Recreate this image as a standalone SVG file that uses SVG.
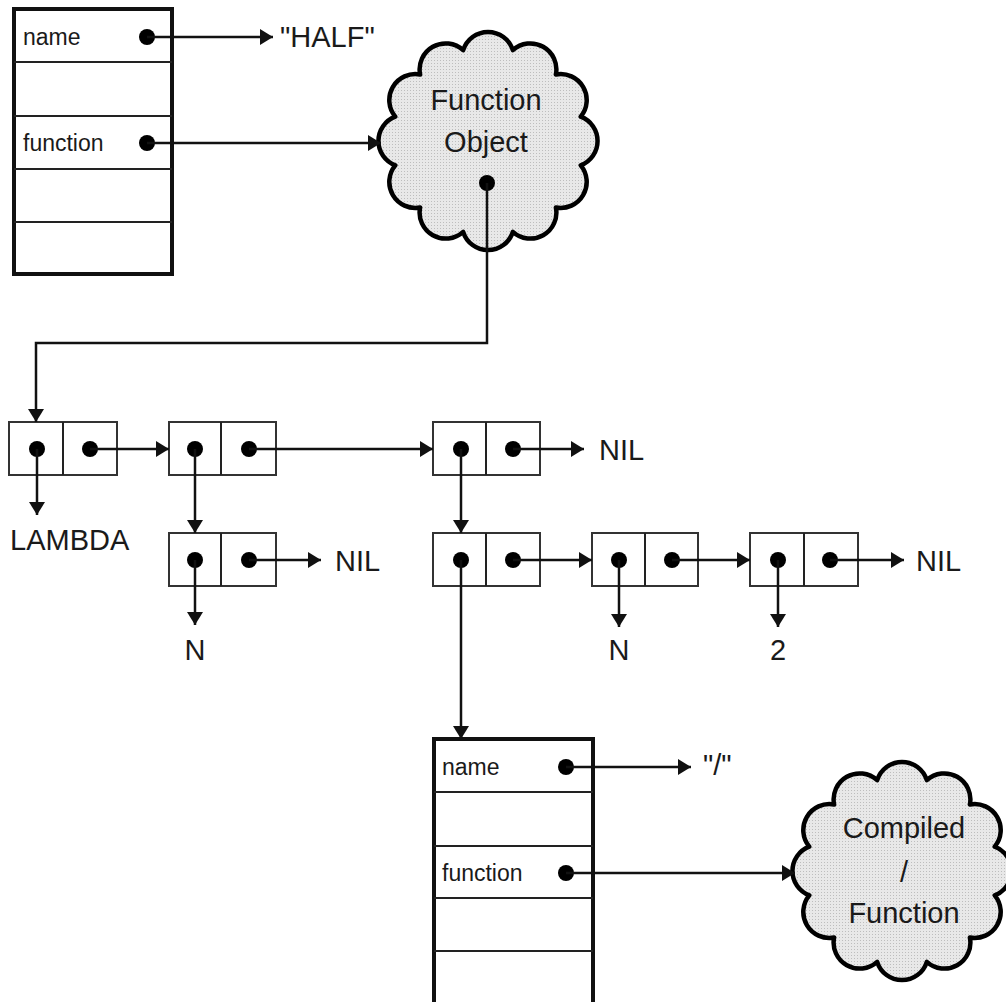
<svg xmlns="http://www.w3.org/2000/svg" width="1006" height="1002" viewBox="0 0 1006 1002">
<style>
text{font-family:"Liberation Sans",Arial,sans-serif;fill:#1a1a1a}
.lbl{font-size:23px}
.big{font-size:29px}
.mid{text-anchor:middle}
.sym{fill:#fff;stroke:#111;stroke-width:4}
.row{stroke:#222;stroke-width:2}
.cell{fill:#fff;stroke:#333;stroke-width:2}
.dot{fill:#000}
.cloud{fill:url(#dots);stroke:#000;stroke-width:4.5;stroke-linejoin:round}
.edge{fill:none;stroke:#111;stroke-width:2.5;marker-end:url(#ah)}
</style>
<defs>
<pattern id="dots" width="3" height="3" patternUnits="userSpaceOnUse">
<rect width="3" height="3" fill="#e8e8e8"/>
<rect width="1" height="1" fill="#bdbdbd"/>
</pattern>
<marker id="ah" markerUnits="userSpaceOnUse" markerWidth="16" markerHeight="16" refX="13" refY="8" orient="auto">
<path d="M0,0 L13,8 L0,16 z" fill="#111"/>
</marker>
<path id="cloudShape" d="M92.73,24.33 A26,26 0 0 1 67.88,66.47 A26,26 0 0 1 24.84,90.79 A26,26 0 0 1 -24.84,90.79 A26,26 0 0 1 -67.88,66.47 A26,26 0 0 1 -92.73,24.33 A26,26 0 0 1 -92.73,-24.33 A26,26 0 0 1 -67.88,-66.47 A26,26 0 0 1 -24.84,-90.79 A26,26 0 0 1 24.84,-90.79 A26,26 0 0 1 67.88,-66.47 A26,26 0 0 1 92.73,-24.33 A26,26 0 0 1 92.73,24.33 Z"/>
</defs>
<rect width="1006" height="1002" fill="#fff"/>

<g id="symbol-half">
<rect class="sym" x="14" y="9" width="158" height="265"/>
<line class="row" x1="14" y1="62" x2="172" y2="62"/>
<line class="row" x1="14" y1="116" x2="172" y2="116"/>
<line class="row" x1="14" y1="169" x2="172" y2="169"/>
<line class="row" x1="14" y1="222" x2="172" y2="222"/>
<text class="lbl" x="23" y="45">name</text>
<text class="lbl" x="23" y="151">function</text>
<circle class="dot" cx="147" cy="37" r="8"/>
<circle class="dot" cx="147" cy="143" r="8"/>
</g>
<g id="str-half"><text class="big" x="280" y="47">"HALF"</text></g>

<g id="function-object">
<use href="#cloudShape" class="cloud" transform="translate(488,141)"/>
<text class="big mid" x="486" y="110">Function</text>
<text class="big mid" x="486" y="152">Object</text>
<circle class="dot" cx="487" cy="183" r="8"/>
</g>

<g id="cell1">
<rect class="cell" x="9" y="422" width="108" height="53"/>
<line class="row" x1="63" y1="422" x2="63" y2="475"/>
<circle class="dot" cx="37" cy="449" r="8"/><circle class="dot" cx="90" cy="449" r="8"/>
</g>
<g id="lambda"><text class="big" x="10" y="550">LAMBDA</text></g>
<g id="cell2">
<rect class="cell" x="169" y="422" width="107" height="53"/>
<line class="row" x1="221" y1="422" x2="221" y2="475"/>
<circle class="dot" cx="195" cy="449" r="8"/><circle class="dot" cx="249" cy="449" r="8"/>
</g>
<g id="cell3">
<rect class="cell" x="433" y="422" width="107" height="53"/>
<line class="row" x1="486" y1="422" x2="486" y2="475"/>
<circle class="dot" cx="461" cy="449" r="8"/><circle class="dot" cx="513" cy="449" r="8"/>
</g>
<g id="nil1"><text class="big" x="599" y="460">NIL</text></g>
<g id="cell4">
<rect class="cell" x="169" y="533" width="107" height="53"/>
<line class="row" x1="221" y1="533" x2="221" y2="586"/>
<circle class="dot" cx="195" cy="560" r="8"/><circle class="dot" cx="249" cy="560" r="8"/>
</g>
<g id="nil2"><text class="big" x="335" y="571">NIL</text></g>
<g id="n1"><text class="big mid" x="195" y="660">N</text></g>
<g id="cell5">
<rect class="cell" x="433" y="533" width="107" height="53"/>
<line class="row" x1="486" y1="533" x2="486" y2="586"/>
<circle class="dot" cx="461" cy="560" r="8"/><circle class="dot" cx="513" cy="560" r="8"/>
</g>
<g id="cell6">
<rect class="cell" x="592" y="533" width="106" height="53"/>
<line class="row" x1="645" y1="533" x2="645" y2="586"/>
<circle class="dot" cx="619" cy="560" r="8"/><circle class="dot" cx="672" cy="560" r="8"/>
</g>
<g id="cell7">
<rect class="cell" x="750" y="533" width="108" height="53"/>
<line class="row" x1="804" y1="533" x2="804" y2="586"/>
<circle class="dot" cx="778" cy="560" r="8"/><circle class="dot" cx="830" cy="560" r="8"/>
</g>
<g id="nil3"><text class="big" x="916" y="571">NIL</text></g>
<g id="n2"><text class="big mid" x="619" y="660">N</text></g>
<g id="two"><text class="big mid" x="778" y="660">2</text></g>

<g id="symbol-div">
<rect class="sym" x="434" y="739" width="159" height="266"/>
<line class="row" x1="434" y1="792" x2="593" y2="792"/>
<line class="row" x1="434" y1="846" x2="593" y2="846"/>
<line class="row" x1="434" y1="898" x2="593" y2="898"/>
<line class="row" x1="434" y1="951" x2="593" y2="951"/>
<text class="lbl" x="442" y="775">name</text>
<text class="lbl" x="442" y="881">function</text>
<circle class="dot" cx="566" cy="767" r="8"/>
<circle class="dot" cx="566" cy="873" r="8"/>
</g>
<g id="str-div"><text class="big" x="703" y="775">"/"</text></g>

<g id="compiled-function">
<use href="#cloudShape" class="cloud" transform="translate(902,871)"/>
<text class="big mid" x="904" y="838">Compiled</text>
<text class="big mid" x="904" y="882">/</text>
<text class="big mid" x="904" y="923">Function</text>
</g>

<g id="connectors">
<path class="edge" d="M147,37 H273"/>
<path class="edge" d="M147,143 H381"/>
<path class="edge" d="M487,183 V343 H36 V422"/>
<path class="edge" d="M37,449 V515"/>
<path class="edge" d="M90,449 H169"/>
<path class="edge" d="M249,449 H433"/>
<path class="edge" d="M513,449 H584"/>
<path class="edge" d="M195,449 V533"/>
<path class="edge" d="M249,560 H321"/>
<path class="edge" d="M195,560 V625"/>
<path class="edge" d="M461,449 V533"/>
<path class="edge" d="M513,560 H592"/>
<path class="edge" d="M672,560 H750"/>
<path class="edge" d="M830,560 H904"/>
<path class="edge" d="M619,560 V627"/>
<path class="edge" d="M778,560 V627"/>
<path class="edge" d="M461,560 V739"/>
<path class="edge" d="M566,767 H691"/>
<path class="edge" d="M566,873 H795"/>
</g>
</svg>
